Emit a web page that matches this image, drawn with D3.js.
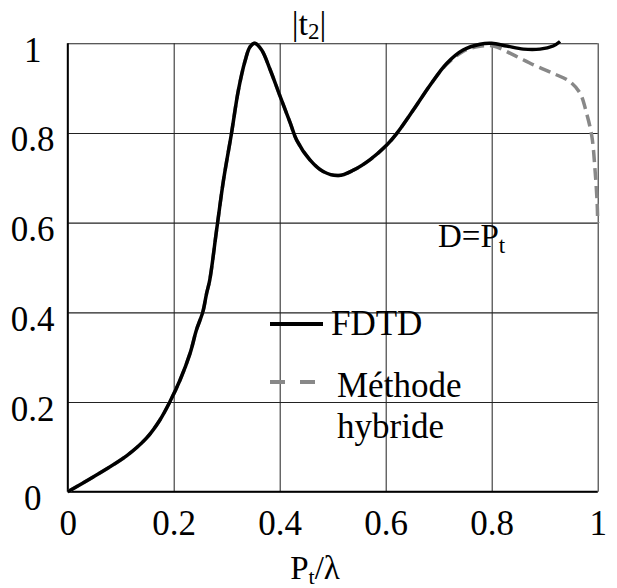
<!DOCTYPE html>
<html>
<head>
<meta charset="utf-8">
<script src="https://cdn.jsdelivr.net/npm/d3@7"></script>
</head>
<body style="margin:0">
<svg id="chart" width="617" height="588" font-family="Liberation Serif" style="font-family: 'Liberation Serif'"></svg>
<script>
// ---- data ----
const xTicks = [0, 0.2, 0.4, 0.6, 0.8, 1];
const xTickLabels = ["0", "0.2", "0.4", "0.6", "0.8", "1"];
const yTicks = [0, 0.2, 0.4, 0.6, 0.8, 1];
const yTickLabels = ["0", "0.2", "0.4", "0.6", "0.8", "1"];

const fdtdX = [0, 0.048, 0.111, 0.149, 0.174, 0.193, 0.212, 0.231, 0.243, 0.255, 0.262, 0.268, 0.281, 0.294, 0.309, 0.322, 0.335, 0.344, 0.353, 0.366, 0.382, 0.401, 0.420, 0.432, 0.457, 0.482, 0.511, 0.539, 0.570, 0.602, 0.621, 0.652, 0.684, 0.715, 0.746, 0.778, 0.800, 0.828, 0.860, 0.891, 0.916, 0.929];
const fdtdY = [0, 0.033, 0.080, 0.120, 0.160, 0.201, 0.249, 0.309, 0.361, 0.401, 0.442, 0.472, 0.584, 0.695, 0.799, 0.895, 0.962, 0.992, 1.000, 0.985, 0.941, 0.881, 0.822, 0.784, 0.740, 0.714, 0.705, 0.717, 0.740, 0.773, 0.799, 0.851, 0.907, 0.955, 0.985, 0.998, 1.000, 0.994, 0.987, 0.987, 0.994, 1.004];

const hybX = [0, 0.048, 0.111, 0.149, 0.174, 0.193, 0.212, 0.231, 0.243, 0.255, 0.262, 0.268, 0.281, 0.294, 0.309, 0.322, 0.335, 0.344, 0.353, 0.366, 0.382, 0.401, 0.420, 0.432, 0.457, 0.482, 0.511, 0.539, 0.570, 0.602, 0.621, 0.652, 0.684, 0.715, 0.746, 0.775, 0.803, 0.841, 0.879, 0.916, 0.948, 0.967, 0.979, 0.989, 0.995, 0.999, 1.000];
const hybY = [0, 0.033, 0.080, 0.120, 0.160, 0.201, 0.249, 0.309, 0.361, 0.401, 0.442, 0.472, 0.584, 0.695, 0.799, 0.895, 0.962, 0.992, 1.000, 0.985, 0.941, 0.881, 0.822, 0.784, 0.740, 0.714, 0.705, 0.717, 0.740, 0.773, 0.799, 0.851, 0.907, 0.953, 0.982, 0.993, 0.994, 0.974, 0.952, 0.933, 0.914, 0.888, 0.844, 0.792, 0.717, 0.643, 0.599];

// ---- layout ----
const W = 617, H = 588;
const margin = { left: 67.7, right: 19.3, top: 43.3, bottom: 96.3 };
const iw = W - margin.left - margin.right;
const ih = H - margin.top - margin.bottom;
const SERIF = "Times";

const svg = d3.select("#chart");
svg.append("rect").attr("width", W).attr("height", H).attr("fill", "#fff");
const g = svg.append("g").attr("transform", `translate(${margin.left},${margin.top})`);

const x = d3.scaleLinear().domain([0, 1]).range([0, iw]);
const y = d3.scaleLinear().domain([0, 1]).range([ih, 0]);

// x axis with grid
const xAxis = g.append("g")
  .attr("transform", `translate(0,${ih})`)
  .call(d3.axisBottom(x).tickValues(xTicks).tickSize(-ih).tickPadding(18)
    .tickFormat((d, i) => xTickLabels[i]));
xAxis.attr("font-family", "Times").attr("font-size", 35);
xAxis.select(".domain").remove();
xAxis.selectAll(".tick line").attr("stroke", "#333").attr("stroke-width", 1.1);
xAxis.selectAll(".tick text")
  .style("font-family", SERIF)
  .attr("fill", "#000");

// y axis with grid
const yAxis = g.append("g")
  .call(d3.axisLeft(y).tickValues(yTicks).tickSize(-iw).tickPadding(35)
    .tickFormat((d, i) => yTickLabels[i]));
yAxis.attr("font-family", "Times").attr("font-size", 35);
yAxis.select(".domain").remove();
yAxis.selectAll(".tick line").attr("stroke", "#222").attr("stroke-width", 1.1);
yAxis.selectAll(".tick text")
  .style("font-family", SERIF)
  .attr("fill", "#000")
  .attr("text-anchor", "middle")
  .attr("dy", 18);

// heavier left and bottom frame
g.append("line").attr("x1", 0).attr("x2", 0).attr("y1", 0).attr("y2", ih)
  .attr("stroke", "#000").attr("stroke-width", 1.8);
g.append("line").attr("x1", 0).attr("x2", iw).attr("y1", ih).attr("y2", ih)
  .attr("stroke", "#000").attr("stroke-width", 1.8);

// curves
const line = d3.line()
  .x(d => x(d[0])).y(d => y(d[1]))
  .curve(d3.curveCatmullRom.alpha(0.5));

const hybData = hybX.map((v, i) => [v, hybY[i]]);
const fdtdData = fdtdX.map((v, i) => [v, fdtdY[i]]);

g.append("path").datum(hybData)
  .attr("d", line)
  .attr("fill", "none").attr("stroke", "#888").attr("stroke-width", 3.5)
  .attr("stroke-dasharray", "12,6");

g.append("path").datum(fdtdData)
  .attr("d", line)
  .attr("fill", "none").attr("stroke", "#000").attr("stroke-width", 3.5)
  .attr("stroke-linejoin", "round");

function addText(xp, yp, size) {
  return svg.append("text").attr("x", xp).attr("y", yp)
    .attr("font-family", SERIF).style("font-family", SERIF)
    .attr("font-size", size).attr("fill", "#000");
}

// title |t2|
const title = addText(309, 35, 34).attr("text-anchor", "middle");
title.append("tspan").text("|t");
title.append("tspan").attr("font-size", 23).attr("dy", 4).text("2");
title.append("tspan").attr("dy", -4).text("|");

// x-axis label Pt/λ
const xl = addText(315, 579, 33).attr("text-anchor", "middle");
xl.append("tspan").text("P");
xl.append("tspan").attr("font-size", 22).attr("dy", 5).text("t");
xl.append("tspan").attr("dy", -5).text("/λ");

// annotation D=Pt
const ann = addText(438, 247, 33);
ann.append("tspan").text("D=P");
ann.append("tspan").attr("font-size", 23).attr("dy", 6).text("t");

// legend
svg.append("line").attr("x1", 270).attr("x2", 323).attr("y1", 324).attr("y2", 324)
  .attr("stroke", "#000").attr("stroke-width", 4);
addText(331, 335, 35).text("FDTD");
svg.append("line").attr("x1", 270).attr("x2", 318).attr("y1", 382).attr("y2", 382)
  .attr("stroke", "#888").attr("stroke-width", 4).attr("stroke-dasharray", "15,15");
addText(337, 397, 35).text("Méthode");
addText(337, 438, 35).text("hybride");
</script>
</body>
</html>
